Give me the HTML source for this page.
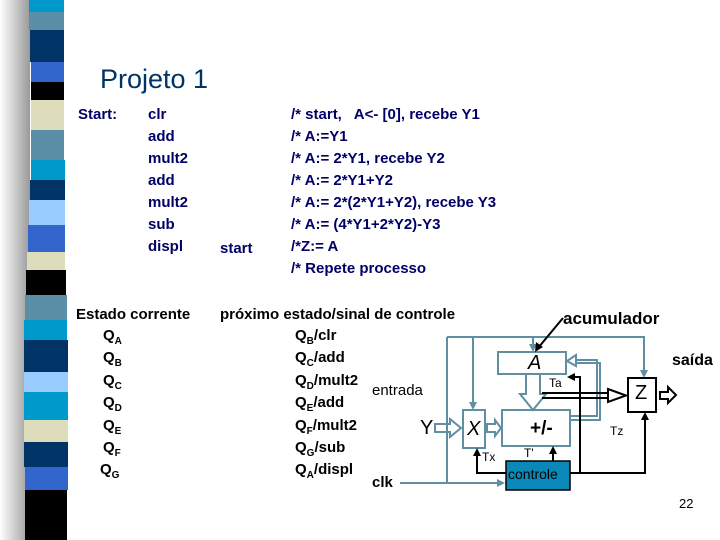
<!DOCTYPE html>
<html><head><meta charset="utf-8"><style>
body{margin:0;width:720px;height:540px;overflow:hidden;background:#fff;position:relative;font-family:"Liberation Sans",sans-serif}
.t{position:absolute;white-space:pre;font-weight:bold;font-size:15px;color:#000066;line-height:22px}
.b{position:absolute;white-space:pre;font-weight:bold;font-size:15px;color:#000;line-height:22px;height:22px}
.s{font-size:10px;position:relative;top:4px}
</style></head><body>
<svg width="720" height="540" style="position:absolute;left:0;top:0">
<defs><linearGradient id="sh" x1="0" x2="1"><stop offset="0" stop-color="#fff"/><stop offset="1" stop-color="#999"/></linearGradient></defs>
<rect x="0" y="0" width="30" height="540" fill="url(#sh)"/>
<g>
<rect x="29" y="0" width="35" height="12" fill="#0099cc"/>
<rect x="29" y="12" width="35" height="18" fill="#5b8fa8"/>
<rect x="30" y="30" width="34" height="32" fill="#003366"/>
<rect x="31" y="62" width="33" height="20" fill="#3366cc"/>
<rect x="31" y="82" width="33" height="18" fill="#000"/>
<rect x="31" y="100" width="33" height="30" fill="#dddcbb"/>
<rect x="31" y="130" width="33" height="30" fill="#5b8fa8"/>
<rect x="31" y="160" width="34" height="20" fill="#0099cc"/>
<rect x="30" y="180" width="35" height="20" fill="#003366"/>
<rect x="29" y="200" width="36" height="25" fill="#99ccff"/>
<rect x="28" y="225" width="37" height="27" fill="#3366cc"/>
<rect x="27" y="252" width="38" height="18" fill="#dddcbb"/>
<rect x="26" y="270" width="40" height="25" fill="#000"/>
<rect x="25" y="295" width="42" height="25" fill="#5b8fa8"/>
<rect x="24" y="320" width="43" height="20" fill="#0099cc"/>
<rect x="24" y="340" width="44" height="32" fill="#003366"/>
<rect x="24" y="372" width="44" height="20" fill="#99ccff"/>
<rect x="24" y="392" width="44" height="28" fill="#0099cc"/>
<rect x="24" y="420" width="44" height="22" fill="#dddcbb"/>
<rect x="24" y="442" width="44" height="25" fill="#003366"/>
<rect x="25" y="467" width="43" height="23" fill="#3366cc"/>
<rect x="25" y="490" width="42" height="50" fill="#000"/>
</g>
<g fill="none" stroke="#5f8fa0" stroke-width="2">
<polyline points="447,337 644,337 644,375"/>
<polyline points="447,337 447,483 400,483"/>
<line x1="447" y1="483" x2="502" y2="483"/>
<line x1="473" y1="337" x2="473" y2="407"/>
<line x1="533" y1="337" x2="533" y2="349"/>
<rect x="498" y="352" width="68" height="22"/>
<rect x="463" y="410" width="22" height="38"/>
<rect x="502" y="410" width="68" height="36"/>
<polyline points="570,416 597,416 597,360 576,360"/>
<polyline points="570,420 600,420 600,363 576,363"/>
<polygon points="567,361 576,355 576,366"/>
<polygon points="526,374 540,374 540,394 546,394 533,410 520,394 526,394"/>
<polygon points="435,424 450,424 450,419 461,428 450,437 450,432 435,432" />
<polygon points="487,424 495,424 495,420 501,428 495,436 495,432 487,432"/>
</g>
<g fill="#5f8fa0"><polygon points="644,378 640,370 648,370"/><polygon points="473,410 469,402 477,402"/><polygon points="533,352 529,344 537,344"/><polygon points="505,483 497,479 497,487"/></g>
<rect x="628" y="378" width="28" height="34" fill="#fff" stroke="#000" stroke-width="2"/>
<g fill="none" stroke="#000" stroke-width="2">
<line x1="542" y1="393" x2="608" y2="393"/><line x1="542" y1="398" x2="608" y2="398"/>
<polygon points="608,389 626,395.5 608,402"/>
<polygon points="660,392 668,392 668,387 676,395 668,403 668,399 660,399"/>
<polyline points="506,473 477,473 477,452"/>
<polyline points="570,473 580,473 580,377 572,377"/>
<polyline points="570,473 645,473 645,416"/>
<line x1="553" y1="461" x2="553" y2="450"/>
<line x1="563" y1="318" x2="538" y2="348"/>
</g>
<g fill="#000"><polygon points="477,448 473,456 481,456"/><polygon points="567,377 575,373 575,381"/><polygon points="645,412 641,420 649,420"/><polygon points="553,446 549,454 557,454"/><polygon points="535,352 536,342 543,347"/></g>
<rect x="506" y="461" width="64" height="29" fill="#0a88b8" stroke="#000" stroke-width="1.5"/>
</svg>
<div style="position:absolute;left:100px;top:64px;font-size:27px;color:#003366">Projeto 1</div>
<div class="t" style="left:78px;top:104px">Start:</div>
<div class="t" style="left:148px;top:104px">clr
add
mult2
add
mult2
sub
displ</div>
<div class="t" style="left:220px;top:238px">start</div>
<div class="t" style="left:291px;top:104px">/* start,   A&lt;- [0], recebe Y1
/* A:=Y1
/* A:= 2*Y1, recebe Y2
/* A:= 2*Y1+Y2
/* A:= 2*(2*Y1+Y2), recebe Y3
/* A:= (4*Y1+2*Y2)-Y3
/*Z:= A
/* Repete processo</div>
<div class="b" style="left:76px;top:304px">Estado corrente</div>
<div class="b" style="left:220px;top:304px">próximo estado/sinal de controle</div>
<div class="b" style="left:103px;top:325px">Q<span class="s">A</span></div>
<div class="b" style="left:103px;top:347px">Q<span class="s">B</span></div>
<div class="b" style="left:103px;top:370px">Q<span class="s">C</span></div>
<div class="b" style="left:103px;top:392px">Q<span class="s">D</span></div>
<div class="b" style="left:103px;top:415px">Q<span class="s">E</span></div>
<div class="b" style="left:103px;top:437px">Q<span class="s">F</span></div>
<div class="b" style="left:100px;top:459px">Q<span class="s">G</span></div>
<div class="b" style="left:295px;top:325px">Q<span class="s">B</span>/clr</div>
<div class="b" style="left:295px;top:347px">Q<span class="s">C</span>/add</div>
<div class="b" style="left:295px;top:370px">Q<span class="s">D</span>/mult2</div>
<div class="b" style="left:295px;top:392px">Q<span class="s">E</span>/add</div>
<div class="b" style="left:295px;top:415px">Q<span class="s">F</span>/mult2</div>
<div class="b" style="left:295px;top:437px">Q<span class="s">G</span>/sub</div>
<div class="b" style="left:295px;top:459px">Q<span class="s">A</span>/displ</div>
<div style="position:absolute;left:372px;top:382px;font-size:15px">entrada</div>
<div class="b" style="left:372px;top:472px">clk</div>
<div style="position:absolute;left:563px;top:309px;font-size:17px;font-weight:bold">acumulador</div>
<div style="position:absolute;left:672px;top:352px;font-size:16px;font-weight:bold">saída</div>
<div style="position:absolute;left:528px;top:352px;font-size:20px;font-style:italic">A</div>
<div style="position:absolute;left:549px;top:376px;font-size:12px">Ta</div>
<div style="position:absolute;left:635px;top:382px;font-size:20px">Z</div>
<div style="position:absolute;left:420px;top:417px;font-size:20px">Y</div>
<div style="position:absolute;left:467px;top:418px;font-size:20px;font-style:italic">X</div>
<div style="position:absolute;left:530px;top:418px;font-size:19px;font-weight:bold">+/-</div>
<div style="position:absolute;left:610px;top:424px;font-size:12px">Tz</div>
<div style="position:absolute;left:482px;top:450px;font-size:12px">Tx</div>
<div style="position:absolute;left:524px;top:446px;font-size:12px">T'</div>
<div style="position:absolute;left:508px;top:466px;font-size:14px;color:#000">controle</div>
<div style="position:absolute;left:679px;top:496px;font-size:13px">22</div>
</body></html>
